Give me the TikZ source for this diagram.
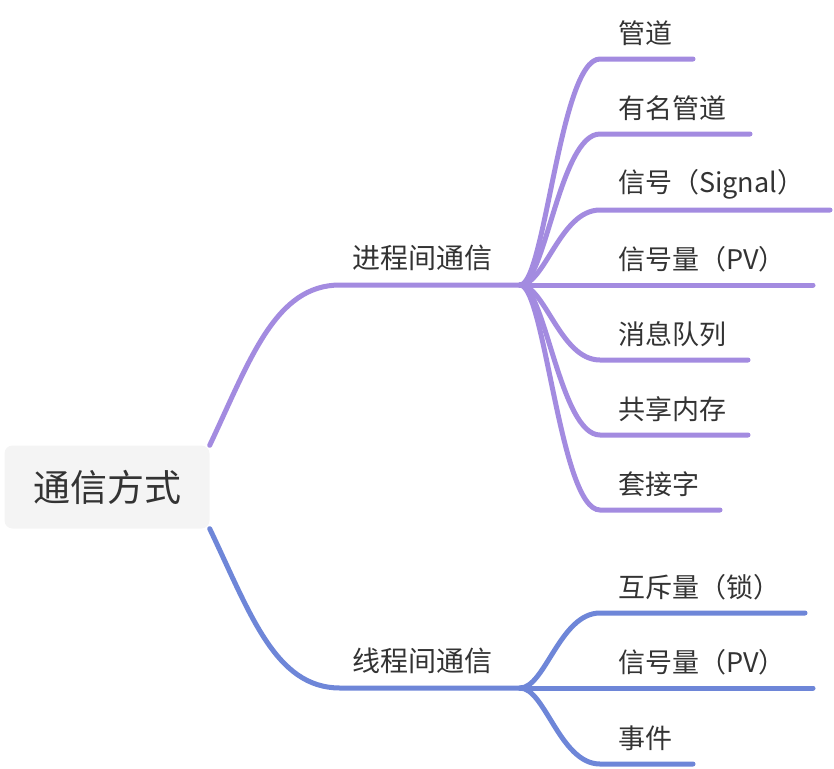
\documentclass[tikz,border=0pt]{standalone}
\usepackage{fontspec}
\setmainfont{Noto Sans CJK SC}
\usepackage{xcolor}
\definecolor{procc}{HTML}{A38BE0}
\definecolor{thrc}{HTML}{6E86D8}
\definecolor{rootgray}{HTML}{F4F4F4}
\definecolor{txt}{HTML}{333333}

\begin{document}
\begin{tikzpicture}[x=1pt, y=-1pt,
    branch/.style={line width=5pt, line cap=round},
    leaf/.style={text=txt, font=\fontsize{27}{32}\selectfont, inner sep=0pt, anchor=west},
    mid/.style={text=txt, font=\fontsize{28}{32}\selectfont, inner sep=0pt}]
    \useasboundingbox (0,0) rectangle (834,768);

    % root
    \node[fill=rootgray, rounded corners=8pt, minimum width=205pt, minimum height=83pt,
          text=txt, font=\fontsize{37}{42}\selectfont] (root) at (107,487) {通信方式};

    % process branch
    \coordinate (prochub) at (520,285);
    \node[mid] (proc) at (422,258) {进程间通信};
    \draw[branch, procc] (root.north east) .. controls (250,360) and (275,285) .. (340,285) -- (prochub);
    \foreach \y/\e/\t [count=\i] in {59/693/管道, 134/750/有名管道, 210/830/信号（Signal）,
        285/813/信号量（PV）, 360/748/消息队列, 435/748/共享内存, 510/720/套接字} {
        \coordinate (pe\i) at (\e,\y);
        \node[leaf] (pt\i) at (618,\y-26) {\t};
        \draw[branch, procc] (prochub) .. controls (545,285) and (560,\y) .. (600,\y) -- (pe\i);
    }

    % thread branch
    \coordinate (thrhub) at (520,688);
    \node[mid] (thr) at (422,661) {线程间通信};
    \draw[branch, thrc] (root.south east) .. controls (250,613) and (275,688) .. (340,688) -- (thrhub);
    \foreach \y/\e/\t [count=\i] in {613/805/互斥量（锁）, 688/813/信号量（PV）, 764/693/事件} {
        \coordinate (te\i) at (\e,\y);
        \node[leaf] (tt\i) at (618,\y-26) {\t};
        \draw[branch, thrc] (thrhub) .. controls (545,688) and (560,\y) .. (600,\y) -- (te\i);
    }
\end{tikzpicture}
\end{document}
